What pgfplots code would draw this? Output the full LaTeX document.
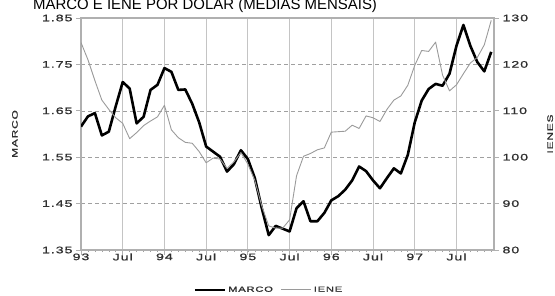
\documentclass[border=0pt]{standalone}
\usepackage{fontspec}
\setmainfont{Liberation Sans}
\newfontfamily\wide[FakeStretch=1.5,LetterSpace=10,FakeBold=1.2]{Liberation Sans}
\usepackage{pgfplots}
\usepackage{pgfplotstable}
\pgfplotsset{compat=1.18}
\definecolor{gridv}{HTML}{C4C4C4}
\definecolor{gridh}{HTML}{A0A0A0}
\definecolor{frame}{HTML}{B0B0B0}
\definecolor{ienec}{HTML}{9A9A9A}
\definecolor{txt}{HTML}{303030}
\pgfplotstableread{
m marco iene
0 1.616 124.7
1 1.638 121.0
2 1.645 116.5
3 1.597 112.3
4 1.605 110.3
5 1.660 108.5
6 1.712 107.3
7 1.698 104.0
8 1.623 105.3
9 1.637 106.8
10 1.695 107.8
11 1.706 108.7
12 1.742 111.2
13 1.734 105.9
14 1.695 104.2
15 1.696 103.2
16 1.665 103.0
17 1.625 101.2
18 1.573 98.8
19 1.562 99.8
20 1.551 99.6
21 1.519 97.6
22 1.535 99.0
23 1.565 101.0
24 1.546 98.5
25 1.505 95.0
26 1.440 89.5
27 1.382 85.2
28 1.402 84.7
29 1.396 84.7
30 1.390 86.5
31 1.440 96.0
32 1.455 100.2
33 1.412 100.8
34 1.412 101.6
35 1.430 102.0
36 1.457 105.4
37 1.466 105.5
38 1.480 105.6
39 1.500 106.9
40 1.530 106.2
41 1.520 108.9
42 1.500 108.5
43 1.483 107.7
44 1.505 110.3
45 1.526 112.3
46 1.515 113.2
47 1.555 115.5
48 1.625 119.8
49 1.672 123.0
50 1.697 122.8
51 1.708 124.8
52 1.704 117.7
53 1.730 114.3
54 1.790 115.6
55 1.835 118.0
56 1.790 120.3
57 1.755 121.5
58 1.735 124.2
59 1.777 129.5
}\datatable
\begin{document}
\begin{tikzpicture}[x=1bp,y=1bp]
\begin{axis}[
  at={(81bp,45bp)}, anchor=south west,
  width=413bp, height=232bp, scale only axis,
  xmin=0, xmax=59.4, ymin=1.35, ymax=1.85,
  axis line style={frame, line width=1.2pt},
  xtick={0,6,...,54},
  xticklabels={93,Jul,94,Jul,95,Jul,96,Jul,97,Jul},
  minor xtick={0,...,59},
  ytick={1.35,1.45,1.55,1.65,1.75,1.85},
  yticklabels={1.35,1.45,1.55,1.65,1.75,1.85},
  xtick pos=bottom, ytick pos=left,
  tick align=outside,
  major tick length=5bp, minor tick length=2bp,
  tick style={frame, line width=0.8pt},
  minor tick style={gridh, line width=0.6pt},
  xmajorgrids, ymajorgrids,
  x grid style={gridv, line width=0.9pt},
  y grid style={gridh, line width=0.6pt, dash pattern=on 4bp off 3bp},
  ticklabel style={font=\wide\fontsize{9.5}{10}\selectfont, text=txt},
  xticklabel style={yshift=5bp},
  ylabel={MARCO},
  every axis y label/.style={at={(axis description cs:-0.16,0.5)}, rotate=90, anchor=center, font=\wide\fontsize{8}{8}\selectfont, text=txt},
]
\addplot[black, line width=2.6pt, line join=round] table[x=m, y=marco] {\datatable};
\end{axis}
\begin{axis}[
  at={(81bp,45bp)}, anchor=south west,
  width=413bp, height=232bp, scale only axis,
  xmin=0, xmax=59.4, ymin=80, ymax=130,
  axis x line=none,
  axis y line*=right,
  axis line style={frame, line width=1.2pt},
  ytick={80,90,...,130},
  yticklabels={80,90,100,110,120,130},
  tick align=outside, major tick length=5bp,
  tick style={frame, line width=0.8pt},
  ticklabel style={font=\wide\fontsize{9.5}{10}\selectfont, text=txt},
  ylabel={IENES},
  every axis y label/.style={at={(axis description cs:1.136,0.5)}, rotate=90, anchor=center, font=\wide\fontsize{8}{8}\selectfont, text=txt},
  legend style={at={(axis description cs:0.455,-0.172)}, anchor=center, draw=none, fill=none,
    font=\wide\fontsize{7.5}{8}\selectfont, text=txt, legend columns=2,
    /tikz/every even column/.append style={column sep=6bp}},
  legend image code/.code={\draw[#1] (0bp,0bp) -- (30bp,0bp);},
]
\addlegendimage{black, line width=2.6pt}
\addlegendentry{MARCO}
\addplot[ienec, line width=0.9pt, line join=round] table[x=m, y=iene] {\datatable};
\addlegendentry{IENE}
\end{axis}
\node[anchor=base west, font=\fontsize{15}{15}\selectfont, text=black, inner sep=0pt] at (33,285.5) {MARCO E IENE POR DÓLAR (MÉDIAS MENSAIS)};
\pgfresetboundingbox
\path[use as bounding box] (0,0) rectangle (555,295);
\end{tikzpicture}
\end{document}
